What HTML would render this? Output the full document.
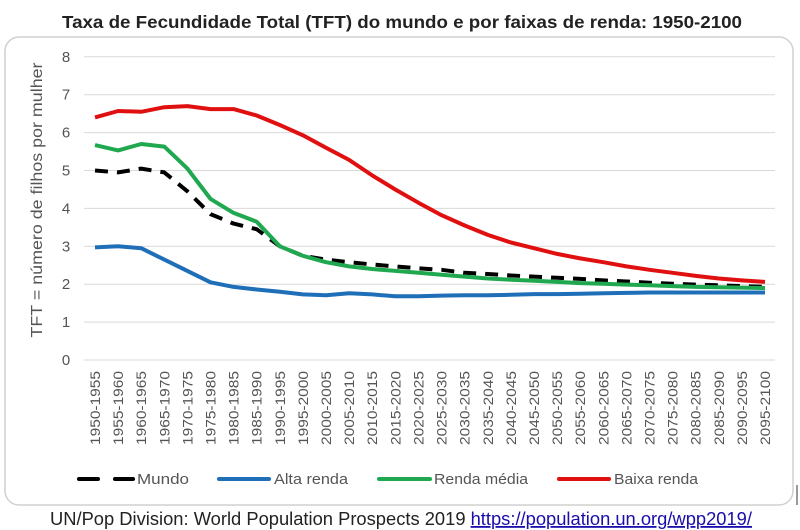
<!DOCTYPE html>
<html><head><meta charset="utf-8"><style>
html,body{margin:0;padding:0;background:#fff;width:800px;height:530px;overflow:hidden}
</style></head><body>
<svg id="s" width="800" height="530" xmlns="http://www.w3.org/2000/svg" font-family="Liberation Sans, DejaVu Sans, sans-serif">
<rect x="0" y="0" width="800" height="530" fill="#fff"/>
<text x="402" y="28" text-anchor="middle" font-size="17.5" font-weight="bold" fill="#222" textLength="680" lengthAdjust="spacingAndGlyphs">Taxa de Fecundidade Total (TFT) do mundo e por faixas de renda: 1950-2100</text>
<rect x="5" y="37" width="788" height="468" rx="14" fill="#fff" stroke="#d0d0d0" stroke-width="1.5"/>
<line x1="797" y1="485" x2="797" y2="505" stroke="#333" stroke-width="1"/>
<g id="grid"></g>
<text transform="translate(42,200) rotate(-90)" text-anchor="middle" font-size="16" fill="#555" textLength="275" lengthAdjust="spacingAndGlyphs">TFT = número de filhos por mulher</text>
<g id="lines"></g>
<g id="xl" font-size="14" fill="#555"></g>
<line x1="79" y1="479" x2="98" y2="479" stroke="#000" stroke-width="4" stroke-linecap="round"/>
<line x1="115" y1="479" x2="133" y2="479" stroke="#000" stroke-width="4" stroke-linecap="round"/>
<text x="137" y="484" font-size="15" fill="#555" textLength="52" lengthAdjust="spacingAndGlyphs">Mundo</text>
<line x1="219" y1="479" x2="269" y2="479" stroke="#1f6fb8" stroke-width="4" stroke-linecap="round"/>
<text x="274" y="484" font-size="15" fill="#555" textLength="74" lengthAdjust="spacingAndGlyphs">Alta renda</text>
<line x1="379" y1="479" x2="430" y2="479" stroke="#1fa84f" stroke-width="4" stroke-linecap="round"/>
<text x="434" y="484" font-size="15" fill="#555" textLength="94" lengthAdjust="spacingAndGlyphs">Renda média</text>
<line x1="559" y1="479" x2="609" y2="479" stroke="#e01010" stroke-width="4" stroke-linecap="round"/>
<text x="614" y="484" font-size="15" fill="#555" textLength="84" lengthAdjust="spacingAndGlyphs">Baixa renda</text>
<text x="50" y="525" font-size="18" fill="#222" textLength="702" lengthAdjust="spacingAndGlyphs">UN/Pop Division: World Population Prospects 2019 <tspan fill="#1a0dab" text-decoration="underline">https://population.un.org/wpp2019/</tspan></text>
</svg>
<script>
var NS="http://www.w3.org/2000/svg";
function el(t,a,p){var e=document.createElementNS(NS,t);for(var k in a)e.setAttribute(k,a[k]);p.appendChild(e);return e;}
var y0=360,pu=37.9,x0=95,dx=670/29;
var g=document.getElementById('grid');
for(var i=0;i<=8;i++){var y=y0-i*pu;el('line',{x1:84,x2:775,y1:y,y2:y,stroke:'#d9d9d9','stroke-width':1},g);
var t=el('text',{x:66,y:y+5,'text-anchor':'middle','font-size':15,fill:'#555'},g);t.textContent=i;}
var mundo=[5.0,4.95,5.05,4.95,4.45,3.85,3.6,3.45,3.0,2.75,2.65,2.58,2.52,2.47,2.42,2.38,2.3,2.27,2.23,2.2,2.17,2.14,2.1,2.07,2.04,2.01,1.99,1.97,1.95,1.93];
var alta=[2.97,3.0,2.95,2.65,2.35,2.05,1.93,1.86,1.8,1.73,1.71,1.76,1.73,1.68,1.68,1.7,1.71,1.71,1.72,1.74,1.74,1.75,1.76,1.77,1.78,1.78,1.78,1.78,1.78,1.78];
var media=[5.67,5.53,5.7,5.63,5.05,4.25,3.88,3.65,3.0,2.75,2.58,2.47,2.4,2.35,2.3,2.25,2.2,2.15,2.12,2.09,2.06,2.03,2.01,1.99,1.97,1.95,1.93,1.92,1.91,1.9];
var baixa=[6.4,6.57,6.55,6.67,6.7,6.62,6.62,6.45,6.2,5.93,5.6,5.28,4.87,4.5,4.15,3.82,3.55,3.3,3.1,2.95,2.8,2.68,2.58,2.47,2.38,2.3,2.22,2.15,2.1,2.06];
var L=document.getElementById('lines');
function pl(d,c,dash){var p=d.map(function(v,i){return (x0+i*dx).toFixed(1)+','+(y0-v*pu).toFixed(1)}).join(' ');
var a={points:p,fill:'none',stroke:c,'stroke-width':4,'stroke-linejoin':'round'};if(dash){a['stroke-dasharray']='13,9';}el('polyline',a,L);}
pl(mundo,'#000',true);pl(alta,'#1f6fb8');pl(media,'#1fa84f');pl(baixa,'#e01010');
var xl=document.getElementById('xl');
for(var i=0;i<30;i++){var a=1950+5*i;var x=x0+i*dx+5;
var t=el('text',{transform:'translate('+x+',371) rotate(-90)','text-anchor':'end',textLength:74,lengthAdjust:'spacingAndGlyphs'},xl);t.textContent=a+'-'+(a+5);}
</script>
</body></html>
